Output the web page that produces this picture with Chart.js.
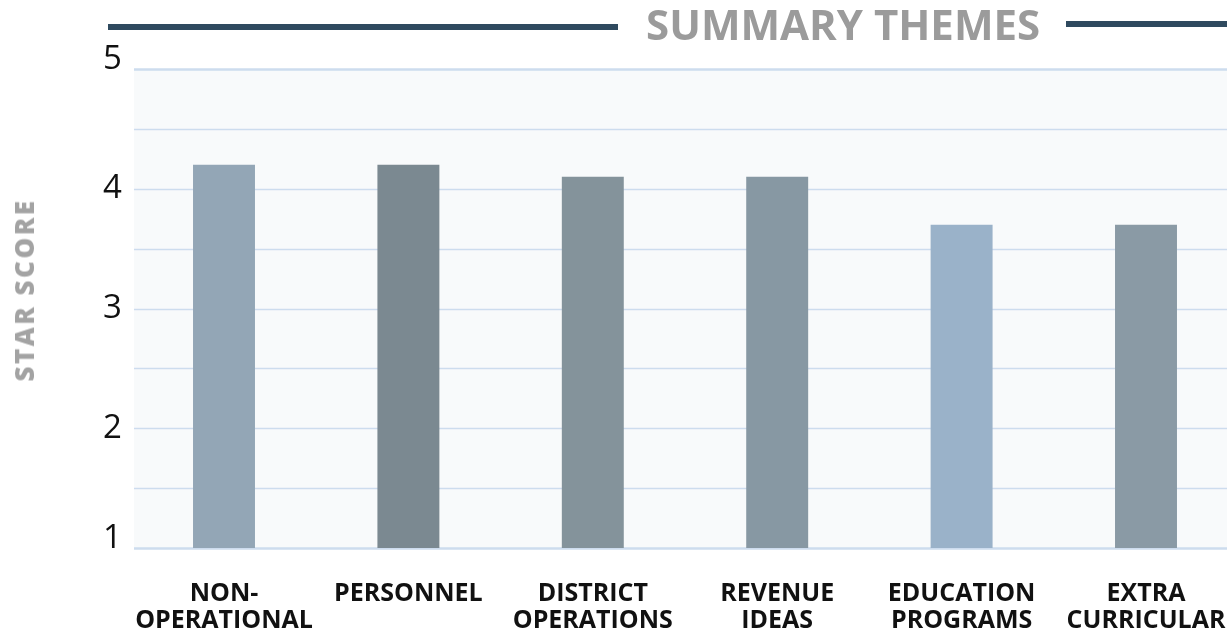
<!DOCTYPE html>
<html lang="en">
<head>
    <title>Summary Themes</title>
    <script src="https://cdn.jsdelivr.net/npm/chart.js@4.4.1/dist/chart.umd.min.js"></script>
    <style>
    body {
        margin: 0;
        background: #fff;
        overflow: hidden;
        font-family: "Open Sans", sans-serif;
    }

    .wrap {
        position: relative;
        width: 1227px;
        height: 632px;
    }

    .rule {
        position: absolute;
        background: #2f4a5f;
    }

    .title {
        position: absolute;
        left: 646px;
        top: -5px;
        font-size: 42px;
        font-weight: 700;
        color: #9b9b9b;
        white-space: nowrap;
    }

    .ytitle {
        position: absolute;
        left: 24px;
        top: 290px;
        font-size: 26px;
        font-weight: 800;
        color: #a3a3a3;
        letter-spacing: 2.5px;
        white-space: nowrap;
        transform: translate(-50%, -50%) rotate(-90deg);
    }
</style>
</head>
<body>
    <div class="wrap">
      <canvas id="themes" width="1227" height="632"></canvas>
      <div class="rule" style="left:108px; top:24px; width:510px; height:6px;"></div>
      <div class="rule" style="left:1066px; top:21px; width:161px; height:6px;"></div>
      <div class="title">SUMMARY THEMES</div>
      <div class="ytitle">STAR SCORE</div>
    </div>

    <script>
        // Datos del gráfico
        const themes = [
            ['NON-', 'OPERATIONAL'],
            ['PERSONNEL'],
            ['DISTRICT', 'OPERATIONS'],
            ['REVENUE', 'IDEAS'],
            ['EDUCATION', 'PROGRAMS'],
            ['EXTRA', 'CURRICULAR']
        ];
        const starScores = [4.2, 4.2, 4.1, 4.1, 3.7, 3.7];
        const barColors = ['#93a6b6', '#7b8991', '#84939b', '#8798a3', '#9ab2c9', '#8a9aa5'];
        const scoreTicks = [1, 2, 3, 4, 5];

        // Fondo del área y cuadrícula: empieza en x=134 y llega al borde derecho
        const plotBackdrop = {
            id: 'plotBackdrop',
            beforeDatasetsDraw(chart) {
                const { ctx, scales: { y } } = chart;
                const left = 134;
                const right = chart.width;
                const top = y.getPixelForValue(y.max);
                const bottom = y.getPixelForValue(y.min);
                ctx.save();
                ctx.fillStyle = '#f8fafb';
                ctx.fillRect(left, top, right - left, bottom - top);
                ctx.strokeStyle = '#cddcee';
                y.ticks.forEach(t => {
                    const py = Math.round(y.getPixelForValue(t.value)) + 0.5;
                    ctx.lineWidth = (t.value === y.min || t.value === y.max) ? 2.5 : 1.5;
                    ctx.beginPath();
                    ctx.moveTo(left, py);
                    ctx.lineTo(right, py);
                    ctx.stroke();
                });
                ctx.restore();
            }
        };

        const ctx = document.getElementById('themes').getContext('2d');
        const themesChart = new Chart(ctx, {
            type: 'bar',
            data: {
                labels: themes,
                datasets: [{
                    data: starScores,
                    backgroundColor: barColors,
                    base: 1,
                    categoryPercentage: 1,
                    barPercentage: 0.336,
                    clip: false
                }]
            },
            plugins: [plotBackdrop],
            options: {
                responsive: false,
                devicePixelRatio: 1,
                animation: false,
                layout: { padding: { top: 69, left: 103, right: 81, bottom: 0 } },
                plugins: {
                    legend: { display: false },
                    tooltip: { enabled: false }
                },
                scales: {
                    x: {
                        offset: false,
                        border: { display: false },
                        grid: { display: false, drawTicks: false },
                        afterFit: s => {
                            s.height = 84;
                            s.paddingLeft = 0;
                            s.paddingRight = 0;
                        },
                        ticks: {
                            autoSkip: false,
                            maxRotation: 0,
                            padding: 32,
                            color: '#111',
                            font: { family: 'Open Sans', size: 25, weight: 'bold', lineHeight: '27px' }
                        }
                    },
                    y: {
                        min: 1,
                        max: 5,
                        border: { display: false },
                        grid: { display: false, drawTicks: false },
                        afterFit: s => { s.width = 121; },
                        ticks: {
                            stepSize: 0.5,
                            padding: 0,
                            crossAlign: 'far',
                            color: '#111',
                            font: { family: 'Open Sans', size: 33, lineHeight: '19px' },
                            // las marcas extremas quedan un poco por encima de la línea
                            callback: v => {
                                if (!scoreTicks.includes(v)) return '';
                                return (v === 1 || v === 5) ? [String(v), ''] : String(v);
                            }
                        }
                    }
                }
            }
        });
    </script>
</body>
</html>
